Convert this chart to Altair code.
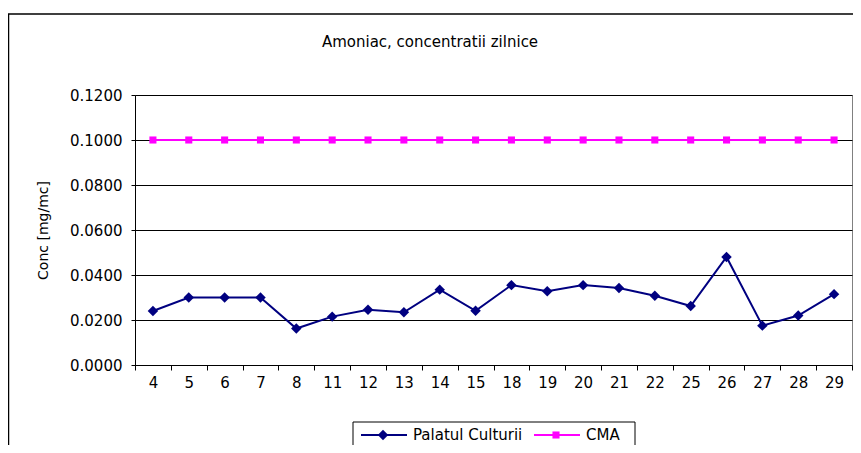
import altair as alt
import pandas as pd

days = ["4", "5", "6", "7", "8", "11", "12", "13", "14", "15",
        "18", "19", "20", "21", "22", "25", "26", "27", "28", "29"]
palatul = [0.0240, 0.0300, 0.0300, 0.0300, 0.0162, 0.0215, 0.0246, 0.0234, 0.0335, 0.0241,
           0.0355, 0.0328, 0.0355, 0.0342, 0.0308, 0.0262, 0.0480, 0.0175, 0.0220, 0.0315]
cma = [0.1, 0.1, 0.1, 0.1, 0.1, 0.1, 0.1, 0.1, 0.1, 0.1,
       0.1, 0.1, 0.1, 0.1, 0.1, 0.1, 0.1, 0.1, 0.1, 0.1]
series = ["Palatul Culturii", "CMA"]
colors = ["#000080", "#FF00FF"]
shapes = ["diamond", "square"]
y_ticks = [0.0, 0.02, 0.04, 0.06, 0.08, 0.10, 0.12]
title_text = "Amoniac, concentratii zilnice"
y_title = "Conc [mg/mc]"

FONT = "DejaVu Sans"

rows = []
for d, v in zip(days, palatul):
    rows.append({"day": d, "value": v, "series": series[0]})
for d, v in zip(days, cma):
    rows.append({"day": d, "value": v, "series": series[1]})
df = pd.DataFrame(rows)

x = alt.X("day:N", sort=days, bandPosition=0.5,
          scale=alt.Scale(type="band", paddingInner=0, paddingOuter=0),
          axis=alt.Axis(title=None, tickBand="extent", labelAngle=0, labelFont=FONT,
                        labelFontSize=15, labelColor="black", domainColor="black",
                        tickColor="black", tickSize=5, labelPadding=5, grid=False))
y = alt.Y("value:Q", scale=alt.Scale(domain=[0, 0.12], nice=False, zero=True),
          axis=alt.Axis(values=y_ticks, format=".4f", title=y_title, grid=True,
                        gridColor="black", gridWidth=1, labelFont=FONT, labelFontSize=15,
                        labelColor="black", domainColor="black", tickColor="black",
                        tickSize=4, labelPadding=9, titleFont=FONT, titleFontSize=14,
                        titleFontWeight="normal", titleColor="black", titleX=-92, titleY=135,
                        titleAlign="center", titleBaseline="middle", titleAngle=270))
color = alt.Color("series:N", scale=alt.Scale(domain=series, range=colors), legend=None)

base = alt.Chart(df)
lines = base.mark_line(strokeWidth=2).encode(x=x, y=y, color=color)
points = base.mark_point(filled=True, opacity=1).encode(
    x=x, y=y, color=color,
    shape=alt.Shape("series:N", scale=alt.Scale(domain=series, range=shapes), legend=None),
    size=alt.Size("series:N", scale=alt.Scale(domain=series, range=[110, 50]), legend=None),
)

one = pd.DataFrame({"a": [0]})
frame = alt.Chart(one).mark_rect(fillOpacity=0, stroke="black", strokeWidth=1.5).encode(
    x=alt.value(-126.5), x2=alt.value(760), y=alt.value(-81), y2=alt.value(500))

title = alt.Chart(one).mark_text(font=FONT, fontSize=15, color="black", baseline="middle",
                                 align="center").encode(
    x=alt.value(295), y=alt.value(-53), text=alt.value(title_text))

# manual legend
leg_box = alt.Chart(one).mark_rect(fill="white", stroke="black", strokeWidth=1).encode(
    x=alt.value(218), x2=alt.value(500), y=alt.value(327), y2=alt.value(356))
leg_layers = [leg_box]
leg_x0 = [226, 399]
for i in range(2):
    lx = leg_x0[i]
    leg_layers.append(alt.Chart(one).mark_rule(color=colors[i], strokeWidth=2).encode(
        x=alt.value(lx), x2=alt.value(lx + 46), y=alt.value(340)))
    leg_layers.append(alt.Chart(one).mark_point(filled=True, opacity=1, color=colors[i],
                                                shape=shapes[i], size=[110, 50][i]).encode(
        x=alt.value(lx + 22), y=alt.value(340)))
    leg_layers.append(alt.Chart(one).mark_text(font=FONT, fontSize=15, color="black",
                                               align="left", baseline="middle").encode(
        x=alt.value(lx + 52), y=alt.value(340), text=alt.value(series[i])))

chart = alt.layer(frame, lines, points, title, *leg_layers).properties(
    width=717, height=270,
    autosize=alt.AutoSizeParams(type="none"),
    padding={"left": 127, "top": 87, "right": 1, "bottom": 80},
    background="white",
).configure_view(stroke="#808080", strokeWidth=1)

chart.save("out.html", embed_options={"renderer": "svg", "actions": False})
